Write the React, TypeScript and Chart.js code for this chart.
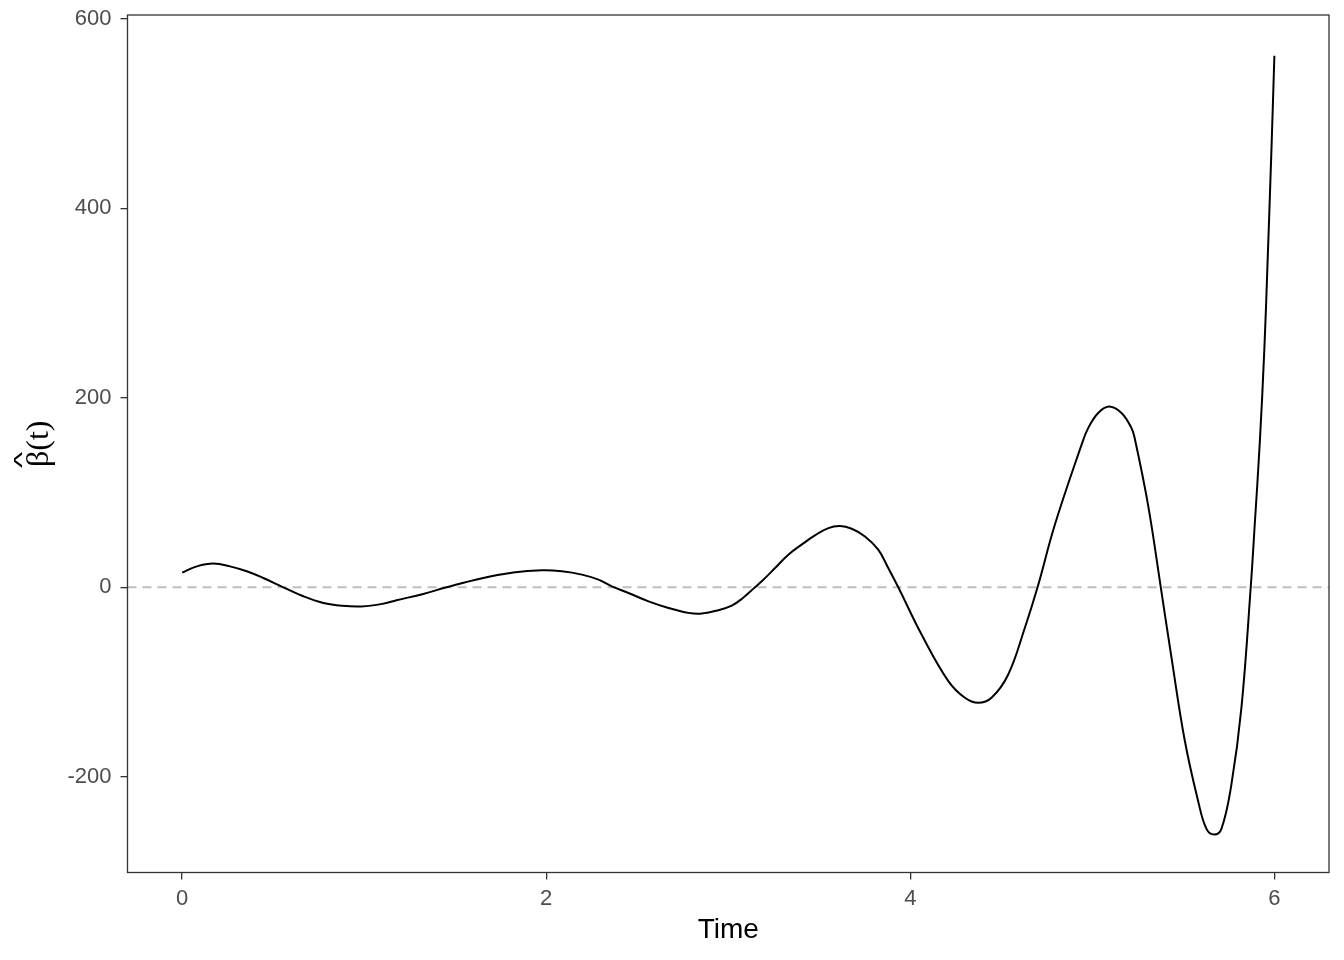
import { useEffect, useRef } from "react"
import { Chart, registerables } from "chart.js"

Chart.register(...registerables)

// Estimated coefficient curve
const TIME = [
  0, 0.081, 0.172, 0.263, 0.355, 0.446, 0.556, 0.666, 0.776, 0.88, 0.985, 1.1, 1.178, 1.325, 1.453,
  1.636, 1.819, 1.976, 2.086, 2.196, 2.287, 2.36, 2.452, 2.562, 2.672, 2.781, 2.855, 2.946, 3.019,
  3.074, 3.147, 3.184, 3.257, 3.33, 3.403, 3.476, 3.55, 3.614, 3.678, 3.751, 3.824, 3.879, 3.934,
  4.062, 4.209, 4.3, 4.373, 4.446, 4.538, 4.629, 4.699, 4.794, 4.94, 4.977, 5.032, 5.092, 5.16,
  5.215, 5.233, 5.306, 5.376, 5.435, 5.508, 5.581, 5.627, 5.669, 5.709, 5.764, 5.819, 5.87, 5.892,
  5.919, 5.945, 5.962, 5.984, 6.0,
]
const BETA = [
  15.5, 22.1, 25, 22.1, 16.9, 9.8, 0, -9.5, -16.5, -19.5, -20.2, -17.5, -13.7, -7, 0,
  9.1, 15.5, 17.9, 16.9, 13.4, 8.1, 1, -6, -14.8, -21.8, -27, -27.7, -24.2, -19.3,
  -12.3, 0, 6.3, 20.3, 34.4, 45, 54.8, 62.5, 64.6, 61.8, 53.7, 39.7, 20.3, 0,
  -49.9, -99, -116.6, -121.9, -116.6, -92, -42.9, 0, 66, 150, 168, 184, 190.7, 184,
  168, 157, 87, 0, -74.5, -162, -225.5, -255, -261, -255, -208, -127, 0, 66,
  150, 252, 340, 463, 561,
]

const X_TICKS = [0, 2, 4, 6]
const Y_TICKS = [-200, 0, 200, 400, 600]
const X_LIMITS = [-0.3, 6.3]
const Y_LIMITS = [-301, 604]
const REF_LINE = 0

const Y_TITLE = "β(t)"
const Y_TITLE_HAT = "^"

const SANS = "'Liberation Sans', Arial, sans-serif"
const SERIF = "'Liberation Serif', 'Times New Roman', serif"

const panelBorder = {
  id: "panelBorder",
  afterDatasetsDraw(chart: Chart) {
    const { ctx, chartArea } = chart
    ctx.save()
    ctx.strokeStyle = "#333333"
    ctx.lineWidth = 1.3
    ctx.strokeRect(chartArea.left, chartArea.top, chartArea.right - chartArea.left, chartArea.bottom - chartArea.top)
    ctx.restore()
  },
}

// rotated y title: beta-hat(t), hat stretched over the beta like plotmath's widehat
const yTitle = {
  id: "yTitle",
  afterDraw(chart: Chart) {
    const { ctx, chartArea } = chart
    const cy = (chartArea.top + chartArea.bottom) / 2
    ctx.save()
    ctx.translate(48, cy)
    ctx.rotate(-Math.PI / 2)
    ctx.font = `32px ${SERIF}`
    ctx.fillStyle = "#000000"
    ctx.textAlign = "left"
    ctx.textBaseline = "alphabetic"
    const w = ctx.measureText(Y_TITLE).width
    const x0 = -w / 2
    ctx.fillText(Y_TITLE, x0, 0)

    ctx.font = `28px ${SANS}`
    const hm = ctx.measureText(Y_TITLE_HAT)
    const gw = hm.actualBoundingBoxLeft + hm.actualBoundingBoxRight || 1
    const gh = hm.actualBoundingBoxAscent + hm.actualBoundingBoxDescent || 1
    const hatW = 16
    const hatH = 8
    ctx.translate(x0 - 1, -34)
    ctx.scale(hatW / gw, hatH / gh)
    ctx.fillText(Y_TITLE_HAT, hm.actualBoundingBoxLeft, hm.actualBoundingBoxAscent)
    ctx.restore()
  },
}

function BetaChart() {
  const chartRef = useRef<HTMLCanvasElement>(null)
  const chartInstance = useRef<Chart | null>(null)

  useEffect(() => {
    if (!chartRef.current) return
    if (chartInstance.current) chartInstance.current.destroy()

    const ctx = chartRef.current.getContext("2d")
    if (!ctx) return

    chartInstance.current = new Chart(ctx, {
      type: "line",
      data: {
        datasets: [
          {
            label: "beta",
            data: TIME.map((t, i) => ({ x: t, y: BETA[i] })),
            borderColor: "#000000",
            borderWidth: 2,
            pointRadius: 0,
            tension: 0.4,
            fill: false,
          },
          {
            label: "zero",
            data: X_LIMITS.map((x) => ({ x, y: REF_LINE })),
            borderColor: "#bebebe",
            borderWidth: 2,
            borderDash: [9, 6],
            pointRadius: 0,
            fill: false,
          },
        ],
      },
      options: {
        responsive: true,
        maintainAspectRatio: false,
        animation: false,
        layout: { padding: { top: 15, right: 15, left: 0, bottom: 0 } },
        plugins: {
          legend: { display: false },
          tooltip: { enabled: false },
        },
        scales: {
          x: {
            type: "linear",
            min: X_LIMITS[0],
            max: X_LIMITS[1],
            afterBuildTicks: (scale: any) => {
              scale.ticks = X_TICKS.map((v) => ({ value: v }))
            },
            afterFit: (scale: any) => {
              scale.height = 87.5
            },
            border: { display: false },
            grid: {
              drawOnChartArea: false,
              drawTicks: true,
              tickLength: 7,
              color: "#333333",
              lineWidth: 1.3,
            },
            ticks: {
              color: "#4d4d4d",
              font: { family: SANS, size: 22, lineHeight: 1 },
              padding: 8,
              maxRotation: 0,
              callback: (v: any) => String(v),
            },
            title: {
              display: true,
              text: "Time",
              color: "#000000",
              font: { family: SANS, size: 28, lineHeight: 1.2 },
              padding: { top: 0, bottom: 13 },
            },
          },
          y: {
            type: "linear",
            min: Y_LIMITS[0],
            max: Y_LIMITS[1],
            afterBuildTicks: (scale: any) => {
              scale.ticks = Y_TICKS.map((v) => ({ value: v }))
            },
            afterFit: (scale: any) => {
              scale.width = 127.5
            },
            border: { display: false },
            grid: {
              drawOnChartArea: false,
              drawTicks: true,
              tickLength: 7,
              color: "#333333",
              lineWidth: 1.3,
            },
            ticks: {
              color: "#4d4d4d",
              font: { family: SANS, size: 22, lineHeight: 0.4 },
              padding: 9,
              callback: (v: any) => String(v),
            },
          },
        },
      },
      plugins: [panelBorder, yTitle],
    })

    return () => {
      if (chartInstance.current) {
        chartInstance.current.destroy()
        chartInstance.current = null
      }
    }
  }, [])

  return (
    <div style={{ width: 1344, height: 960, position: "relative", background: "#ffffff" }}>
      <canvas ref={chartRef} />
    </div>
  )
}

export default function App() {
  useEffect(() => {
    document.body.style.margin = "0"
  }, [])
  return <BetaChart />
}
